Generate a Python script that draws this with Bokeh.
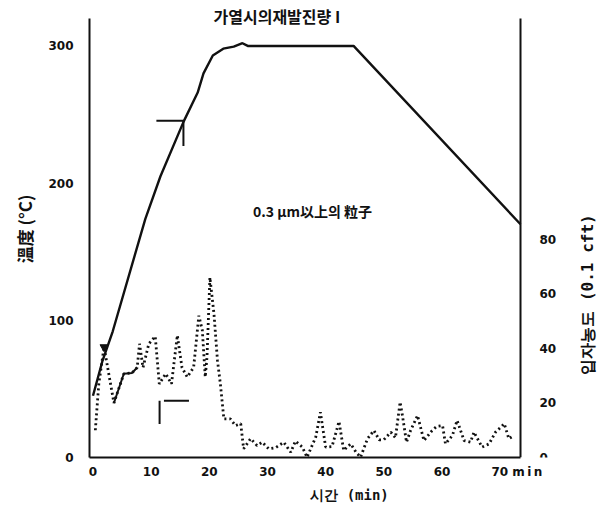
import math
from bokeh.plotting import figure
from bokeh.models import Range1d, LinearAxis, FixedTicker, Label
from bokeh.embed import file_html
from bokeh.resources import INLINE

# ---- data ----
temp_time = [0, 1.6, 3.4, 9.0, 11.6, 15.6, 18.0, 19.0, 20.6, 22.4, 24.2, 25.7, 26.6, 44.8, 73.5]
temp_val = [45, 70, 92, 174, 205, 245, 266, 280, 293, 298, 299.5, 302, 300, 300, 170]

cnt_time = [0.4, 1.0, 1.9, 3.6, 5.3, 6.7, 7.6, 8.0, 8.6, 9.6, 10.7, 11.4, 12.5, 13.5, 14.5,
            15.3, 16.2, 17.3, 18.2, 18.8, 19.3, 19.6, 20.1, 20.8, 21.4, 21.9, 22.5, 23.6,
            24.5, 25.4, 25.9, 27.1, 28.2, 29.1, 30.2, 31.4, 32.8, 34.0, 34.8, 36.0, 36.8,
            38.3, 39.1, 40.0, 41.1, 42.3, 43.1, 44.3, 45.2, 46.0, 47.2, 48.3, 49.2, 50.0,
            51.2, 52.0, 52.8, 53.2, 53.9, 54.6, 55.8, 56.9, 58.3, 59.1, 60.1, 60.6, 61.8,
            62.6, 63.8, 64.9, 65.5, 66.9, 68.1, 69.2, 70.1, 70.7, 71.5, 72.4]
cnt_val = [10, 27, 40.5, 20, 30.7, 31, 33, 41.7, 33, 41.7, 44.4, 27, 30.7, 27, 44.8,
           33, 29.5, 33, 52, 46.6, 29.5, 36.8, 66, 52.7, 35.6, 27, 14.2, 14.2,
           11.7, 12.4, 3.2, 6.9, 4.4, 5.6, 3.2, 3.6, 5.6, 1.9, 6.0, 3.8, 0.1,
           7.5, 16.6, 3.8, 4.0, 13.2, 2.6, 5.0, 2.0, 0.1, 6.9, 9.9, 6.5, 6.5,
           9.3, 7.2, 20.3, 15.4, 5.6, 9.9, 15.4, 6.2, 9.9, 11.4, 11.7, 5.0, 8.1,
           13.6, 6.2, 5.6, 9.3, 3.8, 5.0, 9.3, 11.1, 12.4, 6.9, 8.1]

# annotation strokes (time, value)
mark_temp_t = [10.9, 15.55, 15.55]
mark_temp_v = [245.5, 245.5, 227]
mark_cnt_vt = [11.45, 11.45]
mark_cnt_vv = [12.3, 20.8]
mark_cnt_ht = [12.2, 16.5]
mark_cnt_hv = [20.8, 20.8]

x_ticks = [0, 10, 20, 30, 40, 50, 60, 70]
temp_ticks = [0, 100, 200, 300]
cnt_ticks = [0, 20, 40, 60, 80]

title_text = "가열시의재발진량 I"
inner_text = "0.3 μm以上의 粒子"
xlabel_text = "시간 (min)"
ylabel_text = "溫度 (°C)"
y2label_text = "입자농도 (0.1 cft)"
last_tick_unit = "m\u2009i\u2009n"

INK = "#111111"
NBSP = "\u00a0"
W, H = 609, 510
FL, FB = 89, 457            # frame left / bottom in canvas pixels; frame spans to top and right edge
X0, X1 = -0.6, 73.5         # axis extent (time)
T1, C1 = 320, 161           # axis extent (temperature, count)
PX_X = 431 / (X1 - X0)      # px per minute
PX_T = 439 / T1
PX_C = 439 / C1

p = figure(width=W, height=H, output_backend="svg", toolbar_location=None,
           x_range=Range1d(X0, X0 + (W - FL) / PX_X), y_range=Range1d(0, FB / PX_T),
           min_border_left=FL, min_border_right=0, min_border_top=0,
           min_border_bottom=H - FB)
p.extra_y_ranges = {"cnt": Range1d(0, FB / PX_C)}
p.outline_line_color = None
p.xgrid.visible = False
p.ygrid.visible = False
p.title.visible = False

def style_axis(ax, standoff):
    ax.axis_line_color = INK
    ax.axis_line_width = 2
    ax.major_tick_line_color = None
    ax.minor_tick_line_color = None
    ax.major_tick_out = 0
    ax.major_tick_in = 0
    ax.major_label_text_font = "DejaVu Sans"
    ax.major_label_text_font_style = "bold"
    ax.major_label_text_font_size = "12px"
    ax.major_label_text_color = INK
    ax.major_label_standoff = standoff

def axis_title(ax, label, font, size, standoff):
    ax.axis_label = label
    ax.axis_label_text_font = font
    ax.axis_label_text_font_style = "bold"
    ax.axis_label_text_font_size = size
    ax.axis_label_text_color = INK
    ax.axis_label_standoff = standoff

xa = p.xaxis[0]
ya = p.yaxis[0]
xa.ticker = FixedTicker(ticks=x_ticks)
ya.ticker = FixedTicker(ticks=temp_ticks)
xa.bounds = (X0, X1)
ya.bounds = (0, T1)
style_axis(xa, 7)
style_axis(ya, 16)
axis_title(xa, xlabel_text, "DejaVu Sans Mono", "14px", 5)
axis_title(ya, ylabel_text, "Noto Sans CJK KR", "17px", 8)
xa.major_label_overrides = {70: NBSP * 8 + "70 " + last_tick_unit}

ax2 = LinearAxis(y_range_name="cnt", ticker=FixedTicker(ticks=cnt_ticks),
                 fixed_location=X1, bounds=(0, C1))
style_axis(ax2, 19)
p.add_layout(ax2, "right")

# temperature
p.line(temp_time, temp_val, line_color=INK, line_width=2.4)
# particles
p.line(cnt_time, cnt_val, y_range_name="cnt", line_color=INK, line_width=2.8, line_dash="2 3")
p.line(cnt_time[3:7], cnt_val[3:7], y_range_name="cnt", line_color=INK, line_width=2)
p.scatter([cnt_time[2]], [cnt_val[2]], y_range_name="cnt", marker="inverted_triangle",
          size=8, color=INK)

# annotation strokes
p.line(mark_temp_t, mark_temp_v, line_color=INK, line_width=2)
p.line(mark_cnt_vt, mark_cnt_vv, y_range_name="cnt", line_color=INK, line_width=2)
p.line(mark_cnt_ht, mark_cnt_hv, y_range_name="cnt", line_color=INK, line_width=2)

def lab(x, y, text, size, font, angle=0.0, align="center"):
    p.add_layout(Label(x=x, y=y, x_units="canvas", y_units="canvas", text=text, angle=angle,
                       text_align=align, text_baseline="middle", text_font=font,
                       text_font_style="bold", text_font_size=size, text_color=INK))

lab(213, 15, title_text, "16px", "Noto Sans CJK KR", align="left")
lab(312, 210, inner_text, "14px", "Noto Sans CJK KR")
lab(587, 294, y2label_text, "16px", "DejaVu Sans Mono", angle=math.pi / 2)

open("out.html", "w").write(file_html(p, INLINE))
